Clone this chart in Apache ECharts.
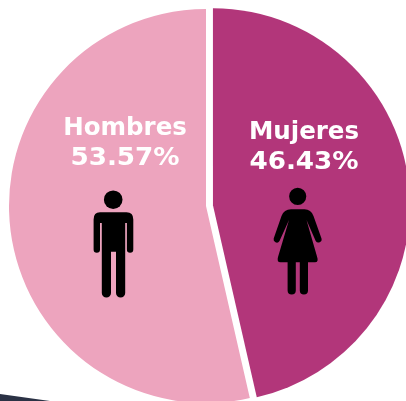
<!DOCTYPE html>
<html>
<head>
<meta charset="utf-8">
<script src="https://cdn.jsdelivr.net/npm/echarts@6/dist/echarts.min.js"></script>
<style>html,body{margin:0;padding:0;background:#fff;overflow:hidden}#c{width:406px;height:401px}</style>
</head>
<body>
<div id="c"></div>
<script>
const categories = ['Mujeres', 'Hombres'];
const values = [46.43, 53.57];
const colors = ['#B2367A', '#EDA4BE'];
const labelCentres = [[304, 133], [125, 129]];

const manPath = 'M100 212.3H126.5Q133.3 212.3 133.3 219.5V249.5A3.2 3.2 0 0 1 126.9 249.5V223H125.2V293A4.6 4.6 0 0 1 116 293V251.7H111V293A4.6 4.6 0 0 1 101.8 293V223H100V249.5A3.2 3.2 0 0 1 93.6 249.5V219.5Q93.6 212.3 100 212.3Z';
const womanPath = 'M291 209.3H304.5Q311 209.3 313.5 216L321.5 238.5A3.2 3.2 0 0 1 315.7 241L306.5 220L317 256.5Q319 262.3 315 262.3H308V290.5A4.1 4.1 0 0 1 299.8 290.5V262.3H295.8V290.5A4.1 4.1 0 0 1 287.6 290.5V262.3H280.5Q276.5 262.3 278 257L289 220L279.5 241A3.2 3.2 0 0 1 273.7 238.5L281.5 216Q284 209.3 291 209.3Z';

const textStyle = {
  fill: '#ffffff',
  fontFamily: 'DejaVu Sans',
  fontWeight: 'bold',
  fontSize: 24.5,
  align: 'center',
  verticalAlign: 'middle'
};

const chart = echarts.init(document.getElementById('c'), null, {renderer: 'canvas'});
chart.setOption({
  animation: false,
  backgroundColor: '#ffffff',
  series: [{
    type: 'pie',
    center: [206, 206],
    radius: [0, 197],
    startAngle: 90,
    clockwise: true,
    silent: true,
    selectedMode: 'multiple',
    selectedOffset: 7,
    avoidLabelOverlap: false,
    labelLine: {show: false},
    emphasis: {disabled: true},
    label: {show: false},
    data: categories.map((name, i) => ({
      name, value: values[i], selected: i === 0,
      itemStyle: {color: colors[i]}
    }))
  }, {
    type: 'custom',
    coordinateSystem: 'none',
    silent: true,
    z: 5,
    data: [[0]],
    renderItem: () => ({
      type: 'group',
      children: [
        {type: 'polygon', shape: {points: [[0, 394], [50, 401], [0, 401]]}, style: {fill: '#2B3245'}},
        {type: 'circle', shape: {cx: 113.2, cy: 199.7, r: 9.3}, style: {fill: '#000'}},
        {type: 'path', shape: {pathData: manPath}, style: {fill: '#000'}},
        {type: 'circle', shape: {cx: 297.7, cy: 196.3, r: 8.6}, style: {fill: '#000'}},
        {type: 'path', shape: {pathData: womanPath}, style: {fill: '#000'}},
        ...categories.flatMap((name, i) => [
          {type: 'text', x: labelCentres[i][0], y: labelCentres[i][1], style: {...textStyle, text: name, x: 0, y: 0}},
          {type: 'text', x: labelCentres[i][0], y: labelCentres[i][1] + 30, scaleX: 1.07, style: {...textStyle, text: values[i].toFixed(2) + '%', x: 0, y: 0}}
        ])
      ]
    })
  }]
});
</script>
</body>
</html>
